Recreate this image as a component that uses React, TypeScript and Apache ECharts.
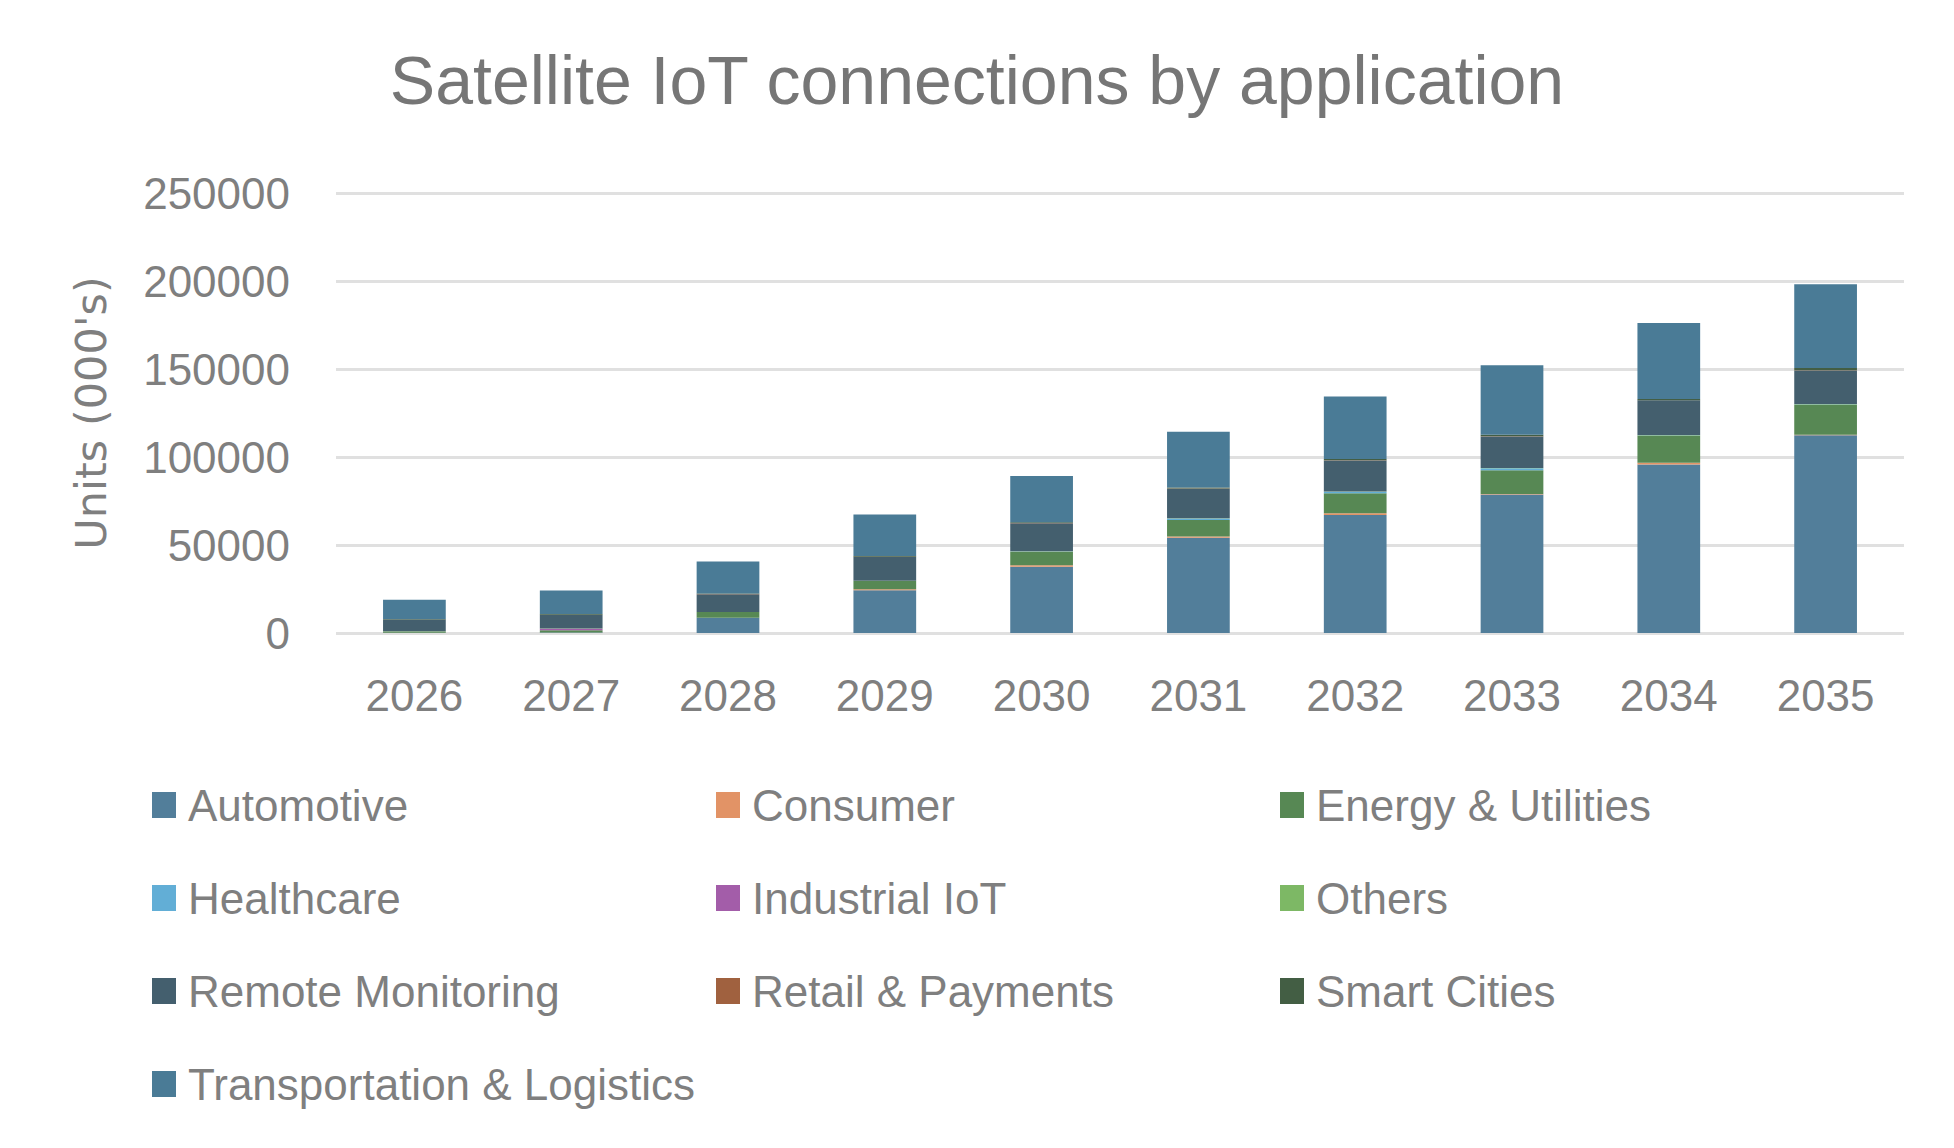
import React, { useEffect, useRef } from "react";
import * as echarts from "echarts";

const years = ["2026", "2027", "2028", "2029", "2030", "2031", "2032", "2033", "2034", "2035"];
const yTicks = { min: 0, max: 250000, interval: 50000 };

const automotive = [200, 300, 8600, 24300, 37600, 54100, 67100, 78700, 95800, 112400];
const consumer = [0, 0, 100, 600, 900, 800, 900, 300, 1000, 300];
const energy = [700, 1200, 3200, 4700, 7600, 9300, 11400, 13500, 15400, 17100];
const healthcare = [0, 0, 0, 0, 200, 900, 900, 1100, 200, 200];
const industrial = [0, 900, 0, 0, 0, 0, 0, 0, 0, 0];
const others = [100, 100, 100, 100, 100, 100, 100, 100, 100, 100];
const remote = [6600, 7900, 10000, 13500, 16000, 16800, 17600, 18000, 19700, 19100];
const retail = [0, 0, 100, 100, 100, 100, 100, 100, 100, 100];
const smartCities = [300, 400, 300, 400, 400, 500, 700, 900, 600, 1200];
const transport = [11000, 13300, 18200, 23600, 26300, 31800, 35600, 39500, 43300, 47600];

const seriesNames = [
  "Automotive",
  "Consumer",
  "Energy & Utilities",
  "Healthcare",
  "Industrial IoT",
  "Others",
  "Remote Monitoring",
  "Retail & Payments",
  "Smart Cities",
  "Transportation & Logistics",
];
const seriesData = [automotive, consumer, energy, healthcare, industrial, others, remote, retail, smartCities, transport];
const seriesColors = [
  "#527E9A",
  "#E29366",
  "#578854",
  "#62AED6",
  "#A35DA9",
  "#7DB865",
  "#445F6E",
  "#A0613F",
  "#435E44",
  "#4A7B96",
];

const legendColumns = [
  ["Automotive", "Healthcare", "Remote Monitoring", "Transportation & Logistics"],
  ["Consumer", "Industrial IoT", "Retail & Payments"],
  ["Energy & Utilities", "Others", "Smart Cities"],
];
const legendLefts = [147, 711, 1275];

const TEXT = "#7F7F7F";
const SANS = "'Liberation Sans', Arial, sans-serif";

export default function App() {
  const ref = useRef<HTMLDivElement>(null);
  useEffect(() => {
    if (!ref.current) return;
    const chart = echarts.init(ref.current, null, { renderer: "svg" });
    chart.setOption({
      animation: false,
      backgroundColor: "#ffffff",
      color: seriesColors,
      title: {
        text: "Satellite IoT connections by application",
        left: "center",
        top: 41,
        textStyle: { color: "#767676", fontSize: 68, fontWeight: "normal", fontFamily: SANS },
      },
      grid: { left: 336, right: 50, top: 193, bottom: 515, containLabel: false },
      legend: legendColumns.map((col, i) => ({
        data: col,
        orient: "vertical",
        left: legendLefts[i],
        top: 775,
        itemWidth: 24,
        itemHeight: 26,
        itemGap: 43,
        icon: "rect",
        selectedMode: false,
        textStyle: { color: TEXT, fontSize: 44, fontFamily: SANS, lineHeight: 50, padding: [0, 0, 0, 7] },
      })),
      xAxis: {
        type: "category",
        data: years,
        axisLine: { show: false },
        axisTick: { show: false },
        axisLabel: { color: TEXT, fontSize: 44, fontFamily: SANS, margin: 40 },
      },
      yAxis: {
        type: "value",
        min: yTicks.min,
        max: yTicks.max,
        interval: yTicks.interval,
        name: "Units (000's)",
        nameLocation: "middle",
        nameGap: 224,
        nameTextStyle: { color: TEXT, fontSize: 43, fontFamily: "'DejaVu Sans', sans-serif" },
        axisLine: { show: false },
        axisTick: { show: false },
        axisLabel: {
          color: TEXT,
          fontSize: 44,
          fontFamily: SANS,
          margin: 46,
          formatter: (v: number) => String(v),
        },
        splitLine: { lineStyle: { color: "#E0E0E0", width: 3 } },
      },
      series: seriesNames.map((name, i) => ({
        name,
        type: "bar",
        stack: "total",
        barWidth: "40%",
        data: seriesData[i],
        itemStyle: { color: seriesColors[i] },
      })),
    });
    return () => chart.dispose();
  }, []);
  return (
    <div
      ref={ref}
      style={{ position: "fixed", left: 0, top: 0, width: 1954, height: 1148, background: "#fff" }}
    />
  );
}
